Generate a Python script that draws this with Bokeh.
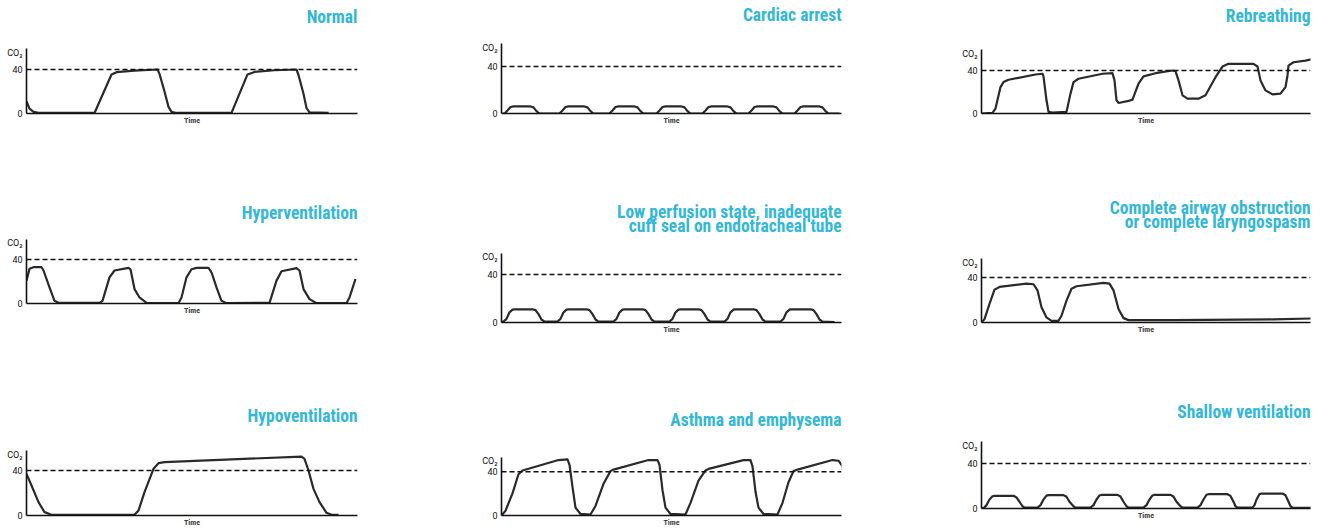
from bokeh.plotting import figure
from bokeh.layouts import column, row
from bokeh.models import Span, FixedTicker, Range1d, Title
from bokeh.embed import file_html
from bokeh.resources import INLINE

# ---------------- data (time in arbitrary units, CO2 in mmHg) ----------------
TITLES = [
    "Normal", "Cardiac arrest", "Rebreathing",
    "Hyperventilation", "Low perfusion state, inadequate\ncuff seal on endotracheal tube",
    "Complete airway obstruction\nor complete laryngospasm",
    "Hypoventilation", "Asthma and emphysema", "Shallow ventilation",
]
Y_TICKS = [0, 40]
Y_TICK_LABELS = ["0", "40"]
Y_LABEL = "CO\u2082"
X_LABEL = "Time"
REF_LEVEL = 40

normal_t = [0, 1, 3, 7, 12, 68, 85, 90, 108, 131, 133, 138, 142, 145, 150, 205, 221, 228, 248, 270, 272, 277, 280, 283, 302]
normal_co2 = [11, 9, 4.5, 1.5, 0.6, 0.5, 35.5, 37.6, 39, 40, 36, 20, 6, 1.5, 0.5, 0.5, 35.5, 37.8, 39.3, 40, 35, 18, 5, 1, 0.5]

cardiac_t = [0, 3, 6, 9, 12, 29, 32, 35, 38,
             58, 61, 64, 67, 83, 86, 89, 92,
             108, 111, 114, 117, 133, 136, 139, 142,
             155, 158, 161, 164, 180, 183, 186, 189,
             201, 204, 207, 210, 226, 229, 232, 235,
             247, 250, 253, 256, 272, 275, 278, 281,
             293, 296, 299, 302, 318, 321, 324, 327, 338]
cardiac_co2 = [0, 0, 2.5, 5.5, 6, 6, 5.2, 2, 0,
               0, 2.5, 5.5, 6, 6, 5.2, 2, 0,
               0, 2.5, 5.5, 6, 6, 5.2, 2, 0,
               0, 2.5, 5.5, 6, 6, 5.2, 2, 0,
               0, 2.5, 5.5, 6, 6, 5.2, 2, 0,
               0, 2.5, 5.5, 6, 6, 5.2, 2, 0,
               0, 2.5, 5.5, 6, 6, 5.2, 2, 0, 0]

rebreath_t = [0, 11, 14, 19, 22, 27, 54, 61, 62, 65, 67, 71, 85, 89, 92, 97, 121, 131, 133, 135,
              137, 147, 151, 157, 162, 174, 191, 194, 197, 201, 206, 217, 224, 234, 241, 247, 272, 276, 279, 284,
              291, 299, 304, 306, 307, 312, 324, 332]
rebreath_co2 = [0, 0.6, 4.6, 24.6, 29.2, 31.4, 36.3, 37, 34.5, 12.3, 1.5, 0.9, 1.5, 18.5, 29.2, 32.3, 37, 37.5, 30.8, 12.3,
                9.8, 11.7, 12.9, 27.7, 34.5, 37.5, 40, 39.4, 30.8, 16.9, 13.8, 13.8, 16.9, 33.8, 43.7, 46.2, 46.2, 43.7, 30.8, 21.5,
                17.8, 18.5, 24.6, 35.4, 44.6, 47.7, 49.2, 50.8]

hyper_t = [0, 3, 7, 15, 17, 23, 28, 32, 73, 76, 83, 88, 102, 104, 108, 113, 120, 152, 155, 160,
           165, 170, 182, 185, 190, 195, 200, 243, 250, 255, 270, 273, 277, 283, 290, 320, 323, 329]
hyper_co2 = [20.8, 31.5, 33, 33, 30, 14.7, 2.4, 0.6, 0.6, 2.4, 23.8, 30, 32.4, 31.1, 13.1, 5.5, 0.6, 0.3, 5.5, 23.8,
             31.1, 32.4, 32.4, 28.4, 14.7, 2.4, 0.3, 0.6, 20.8, 29.3, 32.1, 30, 13.1, 4, 0.3, 0.3, 5.5, 22.3]

lowperf_t = [0,
             2, 5, 8, 11, 13, 31, 34, 37, 40, 43,
             56, 59, 62, 65, 67, 85, 88, 91, 94, 97,
             112, 115, 118, 121, 123, 141, 144, 147, 150, 153,
             168, 171, 174, 177, 179, 197, 200, 203, 206, 209,
             223, 226, 229, 232, 234, 252, 255, 258, 261, 264,
             279, 282, 285, 288, 290, 309, 312, 315, 318, 321, 333]
lowperf_co2 = [0.5,
               0.8, 3, 8.5, 10.7, 11, 11, 10.3, 7, 2.5, 0.8,
               0.8, 3, 8.5, 10.7, 11, 11, 10.3, 7, 2.5, 0.8,
               0.8, 3, 8.5, 10.7, 11, 11, 10.3, 7, 2.5, 0.8,
               0.8, 3, 8.5, 10.7, 11, 11, 10.3, 7, 2.5, 0.8,
               0.8, 3, 8.5, 10.7, 11, 11, 10.3, 7, 2.5, 0.8,
               0.8, 3, 8.5, 10.7, 11, 11, 10.3, 7, 2.5, 0.8, 0.3]

airway_t = [0, 3, 8, 13, 18, 45, 52, 56, 60, 65, 70, 77, 80, 85, 90, 95, 122, 128, 132, 137, 142, 147, 192, 292, 331]
airway_co2 = [0, 3, 16.5, 29.2, 31.6, 34.6, 34, 28.6, 13.5, 4.5, 1.5, 1.5, 6, 19.5, 30, 32.2, 35.2, 34.6, 28.6, 12, 3.9, 2.1, 2.1, 2.7, 3.6]

hypo_t = [0, 5, 12, 18, 25, 108, 112, 118, 127, 132, 138, 275, 278, 282, 287, 293, 300, 305, 312]
hypo_co2 = [37, 26.7, 11.9, 3, 0.6, 0.6, 4.4, 20.7, 41.5, 46.5, 47.4, 52.4, 50.4, 40, 23.7, 11.9, 2.4, 0.6, 0.6]

asthma_t = [0, 4, 11, 17, 21, 57, 66, 68, 71, 74, 79, 89, 94, 102, 109, 112, 147, 156, 158, 161,
            164, 169, 184, 189, 197, 204, 207, 242, 249, 251, 254, 257, 262, 276, 281, 287, 292, 296, 331, 337,
            341, 343]
asthma_co2 = [0, 4.3, 20.3, 37.7, 41.2, 50.7, 51.3, 46.4, 26.1, 7.2, 1.4, 0.9, 8.7, 29, 40.6, 42, 50.7, 50.7, 46.4, 23.2,
              7.2, 1.4, 0.9, 11.6, 31.9, 41.2, 42.6, 50.7, 50.7, 44.9, 21.7, 7.2, 1.4, 0.9, 11.6, 30.4, 40.6, 42, 50.7, 50.1,
              44.9, 33.3]

shallow_t = [0, 2, 5, 8, 11, 13, 32, 35, 38, 41, 43,
             56, 59, 62, 65, 67, 82, 85, 88, 92, 94,
             109, 112, 115, 118, 120, 136, 139, 142, 145, 147,
             162, 165, 168, 171, 173, 189, 192, 195, 199, 201,
             216, 219, 222, 225, 227, 246, 249, 252, 254, 256,
             271, 273, 275, 278, 280, 301, 304, 307, 309, 311, 330]
shallow_co2 = [0.3, 0.3, 3, 8, 10.8, 11.3, 11.3, 9.8, 6, 2, 0.8,
               0.8, 3, 8, 11.4, 11.9, 11.9, 10.4, 6, 2, 0.8,
               0.8, 3, 8, 11.6, 12.1, 12.1, 10.6, 6, 2, 0.8,
               0.8, 3, 8, 11.6, 12.1, 12.1, 10.6, 6, 2, 0.8,
               0.8, 3, 8, 12.2, 12.7, 12.7, 11.2, 6, 2, 0.8,
               0.8, 3, 8, 12.8, 13.3, 13.3, 11.8, 6, 2, 0.8, 0.5]

SERIES = [
    (normal_t, normal_co2), (cardiac_t, cardiac_co2), (rebreath_t, rebreath_co2),
    (hyper_t, hyper_co2), (lowperf_t, lowperf_co2), (airway_t, airway_co2),
    (hypo_t, hypo_co2), (asthma_t, asthma_co2), (shallow_t, shallow_co2),
]

# ---------------- layout / style ----------------
COLS = [(0, 440), (440, 910), (910, 1323)]
ROWS = [(0, 150), (150, 365), (365, 529)]
# frame (left, right, top, bottom) in page px, pixel row of the 40 line, spacer below title
FRAMES = [
    (26, 357, 48, 113, 69, 18.5), (501, 841, 43, 113, 66, 15.5), (981, 1310, 49, 113, 70, 20.5),
    (26, 357, 239, 303, 259, 13.5), (501, 841, 253, 322, 274, 14.5), (981, 1310, 258, 322, 277, 23.5),
    (26, 357, 450, 515, 470, 21.5), (501, 841, 457, 518, 472, 24.5), (981, 1310, 441, 508, 463, 16.5),
]
TITLE_FONT = "Roboto Condensed"
TITLE_COLOR = "#33B7D9"
CURVE_COLOR = "#2a2a2a"
SMALL_FONT = "Roboto"


def make_panel(i):
    r, c = divmod(i, 3)
    x0, x1 = COLS[c]
    y0, y1 = ROWS[r]
    L, R, T, B, y40, gap = FRAMES[i]
    y_end = (B - T) / (B - y40) * REF_LEVEL
    co2_tick = round(y_end - 4 * REF_LEVEL / (B - y40), 2)
    p = figure(width=x1 - x0, height=y1 - y0,
               x_range=Range1d(0, R - L), y_range=Range1d(0, y_end),
               output_backend="svg", toolbar_location=None,
               min_border_left=L - x0, min_border_right=x1 - R,
               min_border_top=T - y0, min_border_bottom=y1 - B,
               outline_line_color=None, background_fill_color="white",
               border_fill_color="white")
    p.grid.visible = False

    xa = p.xaxis[0]
    xa.ticker = FixedTicker(ticks=[])
    xa.axis_label = X_LABEL
    xa.axis_label_text_font = TITLE_FONT
    xa.axis_label_text_font_style = "bold"
    xa.axis_label_text_font_size = "8px"
    xa.axis_label_standoff = 2
    xa.major_label_standoff = 0
    xa.major_tick_out = 0
    xa.major_tick_in = 0
    xa.minor_tick_out = 0
    xa.minor_tick_in = 0
    xa.axis_line_width = 1.6
    xa.axis_line_color = "#111111"

    ya = p.yaxis[0]
    ya.ticker = FixedTicker(ticks=Y_TICKS + [co2_tick])
    overrides = {v: s for v, s in zip(Y_TICKS, Y_TICK_LABELS)}
    overrides[co2_tick] = Y_LABEL
    ya.major_label_overrides = overrides
    ya.major_label_text_font = SMALL_FONT
    ya.major_label_text_font_size = "9px"
    ya.major_label_text_color = "#111111"
    ya.major_label_standoff = 4
    ya.major_tick_out = 0
    ya.major_tick_in = 0
    ya.minor_tick_out = 0
    ya.minor_tick_in = 0
    ya.axis_line_width = 1.6
    ya.axis_line_color = "#111111"

    p.add_layout(Span(location=REF_LEVEL, dimension="width", line_color="#111111",
                      line_width=1.3, line_dash="5 3"))
    t, co2 = SERIES[i]
    p.line(t, co2, line_color=CURVE_COLOR, line_width=2.2, line_join="round")

    # invisible spacer panel next to the frame; the real title sits above it
    p.add_layout(Title(text=" ", text_font_size="1px", standoff=gap), "above")
    p.title = Title(text=TITLES[i], align="right", text_align="right",
                    text_color=TITLE_COLOR, text_font=TITLE_FONT,
                    text_font_style="bold", text_font_size="17.5px",
                    text_line_height=0.7, standoff=0, vertical_align="bottom")
    return p


panels = [make_panel(i) for i in range(9)]
layout = row(column(panels[0], panels[3], panels[6]),
             column(panels[1], panels[4], panels[7]),
             column(panels[2], panels[5], panels[8]))

open("out.html", "w").write(file_html(layout, INLINE))
